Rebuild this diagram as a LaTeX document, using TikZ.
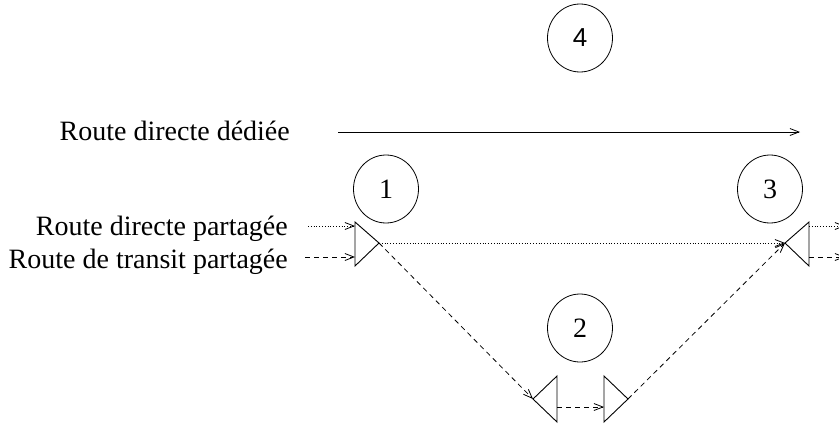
\documentclass[tikz,border=0pt]{standalone}
\usepackage{fontspec}
\setmainfont{Liberation Serif}
\newfontfamily\numsans{Liberation Sans}
\usetikzlibrary{arrows.meta,shapes.geometric}
\begin{document}
\begin{tikzpicture}[x=1pt,y=-1pt,
  lbl/.style={anchor=base east,inner sep=0pt,font=\fontsize{28}{32}\selectfont},
  num/.style={draw,ellipse,minimum width=65pt,minimum height=68pt,inner sep=0pt,line width=0.8pt,font=\fontsize{28}{32}\selectfont},
  tri/.style={draw,line width=0.9pt,line join=miter},
  arr/.style={line width=0.8pt,-{Straight Barb[length=9pt,width=7pt]}},
  dotline/.style={arr,dotted},
  dashline/.style={arr,dash pattern=on 5pt off 4pt}]
\useasboundingbox (0,0) rectangle (839,424);
% circles
\node[num] (n4) at (580,38) {\fontsize{26}{30}\numsans 4};
\node[num] (n1) at (386,189) {1};
\node[num] (n3) at (770,189) {3};
\node[num] (n2) at (580,328) {2};
% labels
\node[lbl] (l1) at (290,140) {Route directe dédiée};
\node[lbl] (l2) at (288,235) {Route directe partagée};
\node[lbl] (l3) at (288,268) {Route de transit partagée};
% triangles
\draw[tri] (355,222) -- (355,266) -- (379,243) -- cycle;
\draw[tri] (809,222) -- (809,266) -- (785,243) -- cycle;
\draw[tri] (557,376) -- (557,422) -- (533,399) -- cycle;
\draw[tri] (604,376) -- (604,422) -- (628,399) -- cycle;
% coordinates
\coordinate (d0) at (338,132);
\coordinate (d1) at (800,132);
\coordinate (a1) at (379,243);
\coordinate (a3) at (785,243);
\coordinate (a2l) at (533,399);
\coordinate (a2r) at (628,399);
\coordinate (in1) at (308,226);
\coordinate (t1) at (355,226);
\coordinate (in2) at (305,257);
\coordinate (t2) at (355,257);
\coordinate (o1) at (809,226);
\coordinate (oe1) at (845,226);
\coordinate (o2) at (809,257);
\coordinate (oe2) at (845,257);
\coordinate (b1) at (557,407);
\coordinate (b2) at (604,407);
% connectors
\draw[arr] (d0) -- (d1);
\draw[dotline] (in1) -- (t1);
\draw[dashline] (in2) -- (t2);
\draw[dotline] (a1) -- (a3);
\draw[dashline] (a1) -- (a2l);
\draw[dashline] (b1) -- (b2);
\draw[dashline] (a2r) -- (a3);
\draw[dotline] (o1) -- (oe1);
\draw[dashline] (o2) -- (oe2);
\end{tikzpicture}
\end{document}
